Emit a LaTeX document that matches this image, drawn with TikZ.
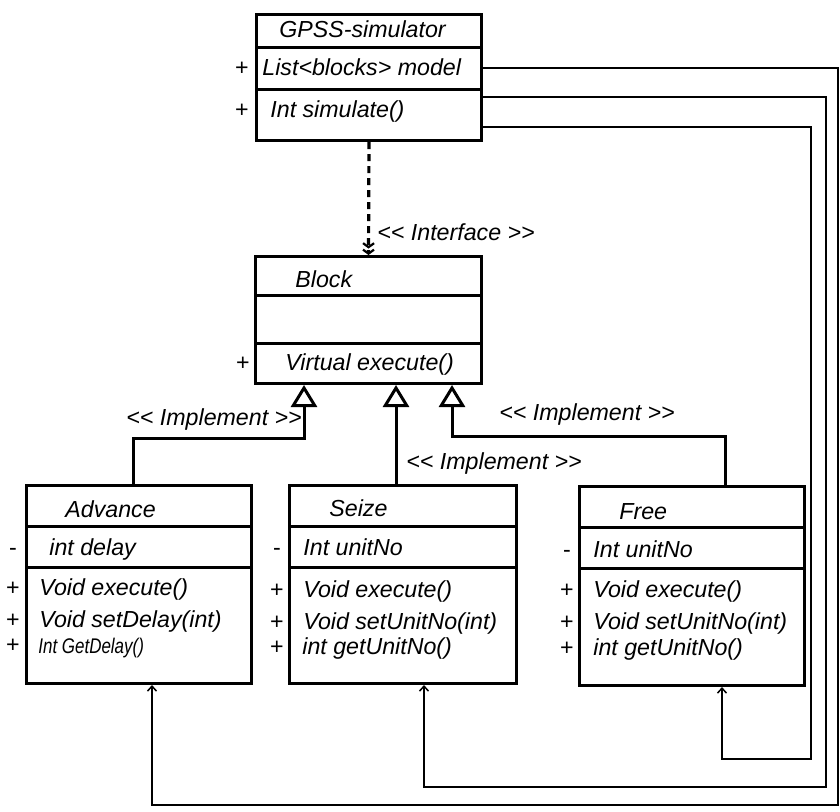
\documentclass[tikz,border=0pt]{standalone}
\usepackage{fontspec}
\setmainfont{Liberation Sans}[Ligatures=TeXOff]
\usetikzlibrary{positioning,calc,arrows.meta}

\begin{document}
\begin{tikzpicture}[x=0.5pt,y=-0.5pt,
                    every node/.style={font=\fontsize{11.6pt}{14pt}\selectfont},
                    classbox/.style={draw,line width=1.5pt,rectangle,anchor=north west,inner sep=0pt,
                                     minimum width=112.5pt,minimum height=99pt},
                    divider/.style={line width=1.5pt},
                    member/.style={anchor=base west,inner sep=0pt,font=\fontsize{11.6pt}{14pt}\selectfont\itshape},
                    vis/.style={anchor=base,inner sep=0pt},
                    impl/.style={line width=1.5pt,-{Triangle[open,length=11pt,width=13pt]}},
                    dep/.style={line width=1.6pt,dash pattern=on 3.5pt off 2.5pt,
                                -{Straight Barb[length=2pt,width=5.5pt,line width=1.1pt]Straight Barb[length=2pt,width=5.5pt,line width=1.1pt]}},
                    link/.style={line width=0.75pt,-{Straight Barb[length=2.5pt,width=4.5pt]}}]
            \useasboundingbox (0,0) rectangle (840,811);

            %Boxes
                \node[classbox,minimum height=63pt] (sim) at (255,13) {};
                \node[classbox,minimum width=113pt,minimum height=63.5pt] (block) at (254,255) {};
                \node[classbox] (adv) at (25,484) {};
                \node[classbox,minimum width=113.5pt] (seize) at (288,484) {};
                \node[classbox,minimum height=99.5pt] (free) at (578,485) {};

                \draw[divider] (sim.west |- 0,47) -- (sim.east |- 0,47);
                \draw[divider] (sim.west |- 0,89) -- (sim.east |- 0,89);
                \draw[divider] (block.west |- 0,295) -- (block.east |- 0,295);
                \draw[divider] (block.west |- 0,343) -- (block.east |- 0,343);
                \draw[divider] (adv.west |- 0,526) -- (adv.east |- 0,526);
                \draw[divider] (adv.west |- 0,567) -- (adv.east |- 0,567);
                \draw[divider] (seize.west |- 0,526) -- (seize.east |- 0,526);
                \draw[divider] (seize.west |- 0,567) -- (seize.east |- 0,567);
                \draw[divider] (free.west |- 0,527) -- (free.east |- 0,527);
                \draw[divider] (free.west |- 0,568) -- (free.east |- 0,568);

            %Texts
                \node[member] (simT) at (279,37) {GPSS-simulator};
                \node[vis] (simAv) at (242,75) {+};
                \node[member] (simA) at (262,75) {List<blocks> model};
                \node[vis] (simMv) at (242,117) {+};
                \node[member] (simM) at (270,117) {Int simulate()};

                \node[member] (blockT) at (295,287) {Block};
                \node[vis] (blockMv) at (243,370) {+};
                \node[member] (blockM) at (285,370) {Virtual execute()};

                \node[member] (advT) at (65,517) {Advance};
                \node[vis] (advAv) at (13,555) {-};
                \node[member] (advA) at (49,555) {int delay};
                \node[vis] (advM1v) at (13,595) {+};
                \node[member] (advM1) at (39,595) {Void execute()};
                \node[vis] (advM2v) at (13,627) {+};
                \node[member] (advM2) at (39,627) {Void setDelay(int)};
                \node[vis] (advM3v) at (13,652) {+};
                \node[member,font=\fontsize{10.6pt}{12pt}\selectfont\itshape] (advM3) at (38,653) {\scalebox{0.8}[1]{Int GetDelay()}};

                \node[member] (seizeT) at (329,516) {Seize};
                \node[vis] (seizeAv) at (277,555) {-};
                \node[member] (seizeA) at (303,555) {Int unitNo};
                \node[vis] (seizeM1v) at (277,597) {+};
                \node[member] (seizeM1) at (303,597) {Void execute()};
                \node[vis] (seizeM2v) at (277,629) {+};
                \node[member] (seizeM2) at (303,629) {Void setUnitNo(int)};
                \node[vis] (seizeM3v) at (277,654) {+};
                \node[member] (seizeM3) at (302,654) {int getUnitNo()};

                \node[member] (freeT) at (619,519) {Free};
                \node[vis] (freeAv) at (567,557) {-};
                \node[member] (freeA) at (593,557) {Int unitNo};
                \node[vis] (freeM1v) at (567,597) {+};
                \node[member] (freeM1) at (593,597) {Void execute()};
                \node[vis] (freeM2v) at (567,629) {+};
                \node[member] (freeM2) at (593,629) {Void setUnitNo(int)};
                \node[vis] (freeM3v) at (567,655) {+};
                \node[member] (freeM3) at (593,655) {int getUnitNo()};

                \node[member] (iface) at (377,240) {<< Interface >>};
                \node[member] (impl1) at (126,425) {<< Implement >>};
                \node[member] (impl2) at (406,469) {<< Implement >>};
                \node[member] (impl3) at (499,420) {<< Implement >>};

            %Bends
                \coordinate (a1) at (133,0);
                \coordinate (s1) at (396,0);
                \coordinate (f1) at (725,0);
                \coordinate (j1) at (304,438);
                \coordinate (j3) at (452,436);
                \coordinate (r1) at (838,68);
                \coordinate (r2) at (826,97);
                \coordinate (r3) at (811,127);
                \coordinate (b1) at (152,805);
                \coordinate (b2) at (424,787);
                \coordinate (b3) at (722,759);

            %Lines
                \draw[dep] (sim.south) -- (block.north);
                \draw[impl] (a1 |- adv.north) |- (j1) -- (j1 |- block.south);
                \draw[impl] (s1 |- seize.north) -- (s1 |- block.south);
                \draw[impl] (f1 |- free.north) |- (j3) -- (j3 |- block.south);
                \draw[link] (sim.east |- r1) -- (r1) |- (b1) -- (b1 |- adv.south);
                \draw[link] (sim.east |- r2) -- (r2) |- (b2) -- (b2 |- seize.south);
                \draw[link] (sim.east |- r3) -- (r3) |- (b3) -- (b3 |- free.south);
            \end{tikzpicture}
\end{document}
